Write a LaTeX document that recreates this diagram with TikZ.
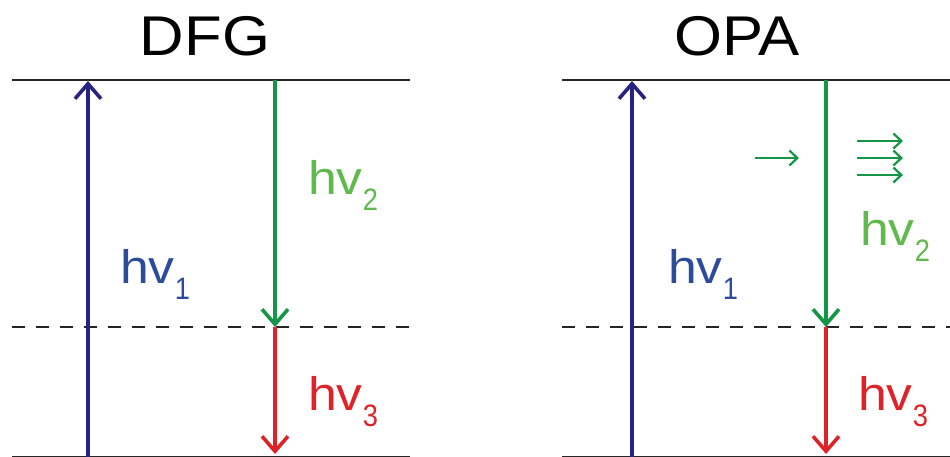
\documentclass[tikz,border=0pt]{standalone}
\usepackage{fontspec}
\setmainfont{Liberation Sans}[FakeStretch=1.1]
\usetikzlibrary{arrows.meta}
\definecolor{navy}{RGB}{40,35,130}
\definecolor{labblue}{RGB}{45,75,155}
\definecolor{grn}{RGB}{20,150,70}
\definecolor{labgrn}{RGB}{95,185,75}
\definecolor{rd}{RGB}{222,35,40}
\newcommand{\hvlab}[1]{hv{\fontsize{31}{31}\selectfont\raisebox{-16pt}{\scalebox{0.8}[1]{#1}}}}
\begin{document}
\begin{tikzpicture}[x=1pt,y=-1pt,
  level/.style={line width=2.3pt,black!85},
  virt/.style={line width=2.3pt,black!85,dash pattern=on 13pt off 11pt},
  trans/.style={line width=3.6pt,-{Straight Barb[length=15pt,width=26pt]}},
  small/.style={line width=2.2pt,grn,-{Straight Barb[length=8pt,width=15pt]}},
  lab/.style={anchor=base west,inner sep=0pt,font=\fontsize{47}{47}\selectfont},
  ttl/.style={anchor=base,inner sep=0pt,font=\fontsize{56}{56}\selectfont}]
\useasboundingbox (0,0) rectangle (950,456);
% titles
\node[ttl] (tD) at (205,55) {DFG};
\node[ttl] (tO) at (737,55) {OPA};
% DFG levels
\coordinate (dTl) at (12,80);  \coordinate (dTr) at (410,80);
\coordinate (dMl) at (12,327); \coordinate (dMr) at (410,327);
\coordinate (dBl) at (12,457.6); \coordinate (dBr) at (410,457.6);
\draw[level] (dTl) -- (dTr);
\draw[virt] (dMl) -- (dMr);
\draw[level] (dBl) -- (dBr);
% OPA levels
\coordinate (oTl) at (562,80);  \coordinate (oTr) at (950,80);
\coordinate (oMl) at (562,327); \coordinate (oMr) at (952,327);
\coordinate (oBl) at (562,457.6); \coordinate (oBr) at (950,457.6);
\draw[level] (oTl) -- (oTr);
\draw[virt] (oMl) -- (oMr);
\draw[level] (oBl) -- (oBr);
% DFG transitions
\coordinate (d1a) at (88,460);  \coordinate (d1b) at (88,81);
\coordinate (d2a) at (275,80);  \coordinate (d2b) at (275,327);
\coordinate (d3a) at (275,327); \coordinate (d3b) at (275,454);
\draw[trans,navy] (d1a) -- (d1b);
\draw[trans,grn] (d2a) -- (d2b);
\draw[trans,rd] (d3a) -- (d3b);
% OPA transitions
\coordinate (o1a) at (632,460);  \coordinate (o1b) at (632,81);
\coordinate (o2a) at (826,80);  \coordinate (o2b) at (826,327);
\coordinate (o3a) at (826,327); \coordinate (o3b) at (826,454);
\draw[trans,navy] (o1a) -- (o1b);
\draw[trans,grn] (o2a) -- (o2b);
\draw[trans,rd] (o3a) -- (o3b);
% small seed / amplified arrows
\coordinate (s0a) at (755,158); \coordinate (s0b) at (799,158);
\coordinate (s1a) at (857,141); \coordinate (s1b) at (903,141);
\coordinate (s2a) at (857,158); \coordinate (s2b) at (903,158);
\coordinate (s3a) at (857,175); \coordinate (s3b) at (903,175);
\draw[small] (s0a) -- (s0b);
\draw[small] (s1a) -- (s1b);
\draw[small] (s2a) -- (s2b);
\draw[small] (s3a) -- (s3b);
% labels
\node[lab,text=labgrn] (lD2) at (308,194) {\hvlab{2}};
\node[lab,text=labblue] (lD1) at (120,283) {\hvlab{1}};
\node[lab,text=rd] (lD3) at (308,410) {\hvlab{3}};
\node[lab,text=labgrn] (lO2) at (860,245) {\hvlab{2}};
\node[lab,text=labblue] (lO1) at (668,283) {\hvlab{1}};
\node[lab,text=rd] (lO3) at (858,410) {\hvlab{3}};
\end{tikzpicture}
\end{document}
